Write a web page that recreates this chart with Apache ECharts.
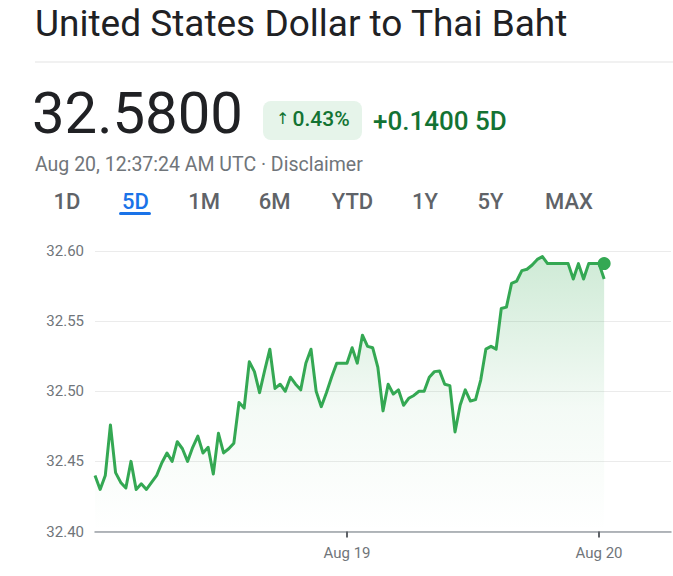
<!DOCTYPE html>
<html>
<head>
<meta charset="utf-8">
<script src="https://cdn.jsdelivr.net/npm/echarts@6/dist/echarts.min.js"></script>
<style>
html,body{margin:0;padding:0;background:#fff;}
#chart{width:673px;height:576px;}
</style>
</head>
<body>
<div id="chart"></div>
<script>
// ---- data ----
const title = 'United States Dollar to Thai Baht';
const price = '32.5800';
const changeArrow = '↑';
const changePct = '0.43%';
const changeAbs = '+0.1400 5D';
const timestamp = 'Aug 20, 12:37:24 AM UTC · Disclaimer';
const ranges = ['1D', '5D', '1M', '6M', 'YTD', '1Y', '5Y', 'MAX'];
const activeRange = '5D';

const values = [
  32.440, 32.430, 32.440, 32.476, 32.442, 32.435, 32.431, 32.450, 32.430, 32.434,
  32.430, 32.435, 32.440, 32.449, 32.456, 32.450, 32.464, 32.459, 32.450, 32.460,
  32.468, 32.456, 32.460, 32.441, 32.470, 32.456, 32.459, 32.463, 32.492, 32.488,
  32.521, 32.514, 32.499, 32.515, 32.530, 32.502, 32.505, 32.500, 32.510, 32.505,
  32.501, 32.520, 32.530, 32.500, 32.489, 32.499, 32.510, 32.520, 32.520, 32.520,
  32.531, 32.520, 32.540, 32.532, 32.531, 32.517, 32.486, 32.505, 32.498, 32.501,
  32.490, 32.495, 32.497, 32.500, 32.500, 32.510, 32.514, 32.5145, 32.505, 32.504,
  32.471, 32.490, 32.501, 32.493, 32.494, 32.508, 32.530, 32.532, 32.530, 32.559,
  32.560, 32.577, 32.5786, 32.586, 32.587, 32.590, 32.594, 32.596, 32.591, 32.591,
  32.591, 32.591, 32.591, 32.580, 32.591, 32.580, 32.591, 32.591, 32.591, 32.580
];
const lastDotValue = 32.591;
const tickLabels = ['Aug 19', 'Aug 20'];
const tickIndex = [49, 98];
const slotCount = 113;
const yTicks = [32.40, 32.45, 32.50, 32.55, 32.60];

// ---- build ----
const categories = Array.from({length: slotCount}, (_, i) => {
  const k = tickIndex.indexOf(i);
  return k >= 0 ? tickLabels[k] : 't' + i;
});

const FONT = 'Roboto, "Noto Sans", sans-serif';
const green = '#34a853';
const darkGreen = '#137333';

const tabCenters = [67, 135.5, 204, 274.5, 352.5, 425, 490.5, 569];
const graphics = [
  {type: 'text', left: 35, top: 5, style: {text: title, font: '37px ' + FONT, fill: '#202124'}},
  {type: 'line', shape: {x1: 35, y1: 62, x2: 673, y2: 62}, style: {stroke: '#e3e3e3', lineWidth: 1}},
  {type: 'text', left: 32, top: 84, style: {text: price, font: '58px ' + FONT, fill: '#202124'}},
  {type: 'rect', shape: {x: 263, y: 101, width: 99, height: 39, r: 8}, style: {fill: '#e6f4ea'}},
  {type: 'text', x: 276, y: 118.5, style: {text: changeArrow, font: '16px "DejaVu Sans", sans-serif', fill: darkGreen, verticalAlign: 'middle'}},
  {type: 'text', x: 292.5, y: 118.5, style: {text: changePct, font: '500 21px ' + FONT, fill: darkGreen, verticalAlign: 'middle'}},
  {type: 'text', x: 373, y: 121, style: {text: changeAbs, font: '500 26px ' + FONT, fill: darkGreen, verticalAlign: 'middle'}},
  {type: 'text', x: 35, y: 164, style: {text: timestamp, font: '19.5px ' + FONT, fill: '#70757a', verticalAlign: 'middle'}},
  {type: 'rect', shape: {x: 119, y: 212, width: 32, height: 3, r: 1.5}, style: {fill: '#1a73e8'}}
];
ranges.forEach((r, i) => {
  graphics.push({type: 'text', x: tabCenters[i], y: 201, style: {
    text: r, font: '500 22px ' + FONT, fill: r === activeRange ? '#1a73e8' : '#5f6368',
    align: 'center', verticalAlign: 'middle'}});
});

const chart = echarts.init(document.getElementById('chart'), null, {renderer: 'svg'});
chart.setOption({
  animation: false,
  backgroundColor: '#fff',
  graphic: graphics,
  grid: {left: 95, right: 2, top: 251, bottom: 44.5, containLabel: false},
  xAxis: {
    type: 'category',
    data: categories,
    boundaryGap: false,
    axisLine: {lineStyle: {color: '#9aa0a6', width: 1.5}},
    axisTick: {
      interval: (i) => tickIndex.includes(i),
      length: 6,
      lineStyle: {color: '#5f6368', width: 2}
    },
    axisLabel: {
      interval: (i) => tickIndex.includes(i),
      formatter: (v) => tickLabels.includes(v) ? v : '',
      color: '#70757a', fontSize: 15, fontFamily: FONT, margin: 14
    },
    splitLine: {show: false}
  },
  yAxis: {
    type: 'value',
    min: yTicks[0], max: yTicks[yTicks.length - 1], interval: 0.05,
    axisLine: {show: false},
    axisTick: {show: false},
    axisLabel: {formatter: (v) => v.toFixed(2), color: '#70757a', fontSize: 15, fontFamily: FONT, margin: 11},
    splitLine: {lineStyle: {color: '#ebebeb', width: 1}}
  },
  series: [
    {
      type: 'line',
      data: values,
      symbol: 'none',
      lineStyle: {color: green, width: 3, join: 'round'},
      areaStyle: {
        color: {
          type: 'linear', x: 0, y: 0, x2: 0, y2: 1,
          colorStops: [
            {offset: 0, color: 'rgba(52,168,83,0.34)'},
            {offset: 0.55, color: 'rgba(52,168,83,0.08)'},
            {offset: 1, color: 'rgba(52,168,83,0)'}
          ]
        }
      },
      z: 3
    },
    {
      type: 'scatter',
      data: [[values.length - 1, lastDotValue]],
      symbol: 'circle',
      symbolSize: 13,
      itemStyle: {color: green, opacity: 1},
      z: 4
    }
  ]
});
</script>
</body>
</html>
